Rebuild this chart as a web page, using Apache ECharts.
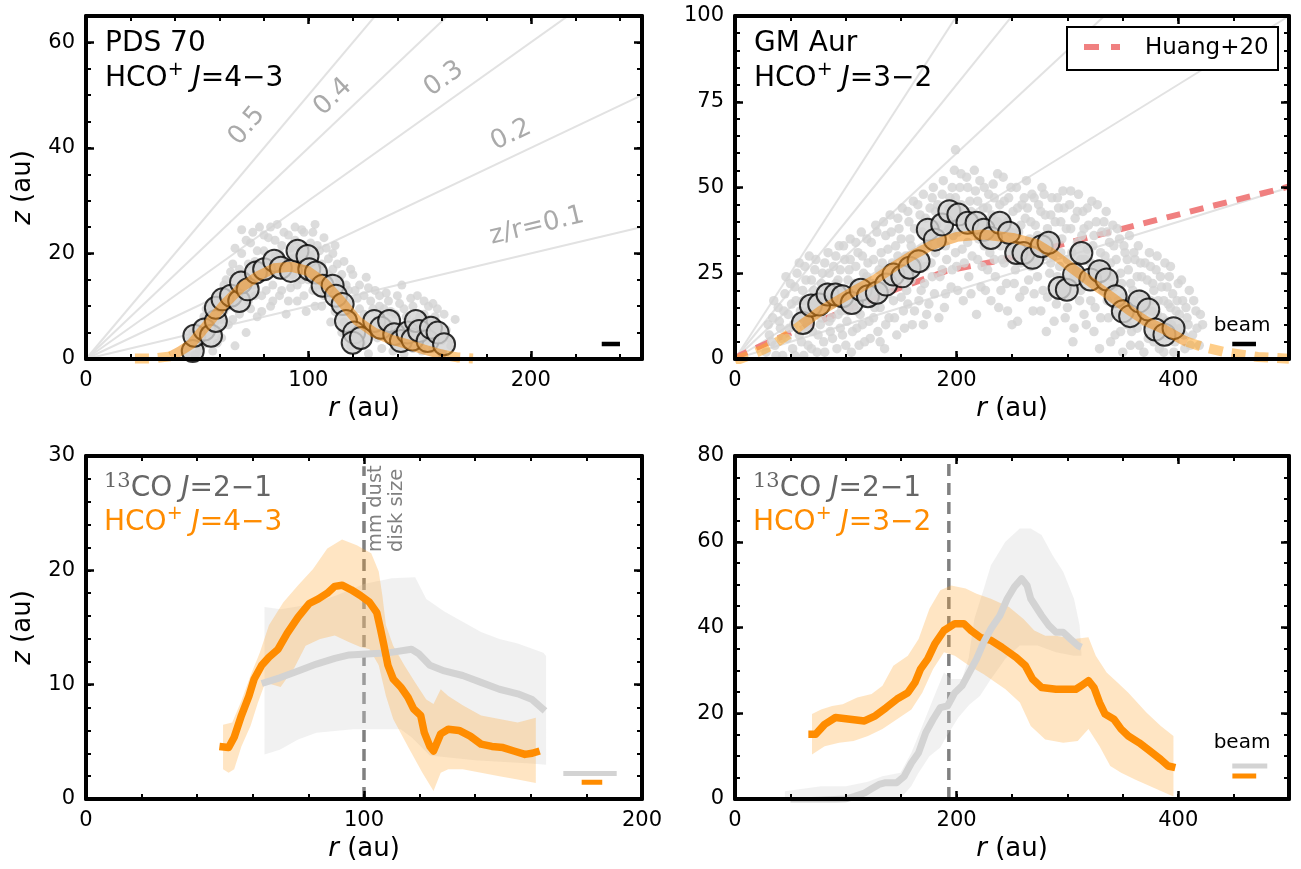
<!DOCTYPE html>
<html><head><meta charset="utf-8">
<script src="https://cdn.jsdelivr.net/npm/echarts@6/dist/echarts.min.js"></script>
<style>html,body{margin:0;padding:0;background:#fff}#c{width:1301px;height:869px}</style>
</head><body><div id="c"></div>
<script>
const FONT = 'DejaVu Sans';

// ===== Top-left: PDS 70, HCO+ J=4-3 =====
const zrRatios = [0.1, 0.2, 0.3, 0.4, 0.5];
const tlDots = [[45,1],[47,3.5],[49,0.8],[50,6],[52,2.5],[53,8],[55,4.5],[56,10],[57,1.5],[58,7],[60,12.5],[61,4],[62,9],[63,15],[64,6.5],[65,11],[66,18],[67,2.5],[68,13.5],[69,8.5],[70,24.5],[70,20],[71,16],[72,5],[73,11],[74,22],[75,14],[76,18.5],[77,8],[78,25],[79,12],[80,20.5],[81,16],[82,23],[83,10],[84,14],[85,19.5],[86,25.5],[87,12],[88,21.5],[89,16.5],[90,8.5],[91,23.5],[92,13.5],[93,19],[94,25],[95,11],[96,21],[97,15],[98,24],[99,9],[100,18.5],[101,22],[102,13],[103,25.5],[104,16],[105,20.5],[106,10],[107,23],[108,14.5],[109,19],[110,7],[111,17],[112,21.5],[113,11.5],[114,15],[115,5],[116,18.5],[117,9],[118,13],[119,2.5],[120,16],[121,6],[122,11.5],[123,14],[124,3],[125,8.5],[126,15.5],[127,1],[128,11],[129,5],[130,13],[131,7.5],[132,12],[133,2],[134,9.5],[135,4.5],[136,11],[137,6.5],[138,1.5],[139,8.5],[140,3.5],[141,10.5],[142,6],[143,1],[144,8],[145,4],[146,11.5],[147,2],[148,7],[149,12],[150,5],[151,1.5],[152,8.5],[153,3.5],[154,10],[155,6],[156,2],[157,8],[158,9.5],[159,4],[160,1],[162,5.5],[164,2.5],[166,7.5],[142,14],
  [46,2.5],[48,5],[51,1.5],[54,3],[54,9.5],[57,5.5],[59,11],[59,3],[61,7.5],[62,14],[64,10],[65,16.5],[66,7.5],[67,21],[68,11.5],[69,17],[71,13],[72,22.5],[73,18],[74,9.5],[75,24],[76,12],[77,20.5],[78,15.5],[79,9],[80,23.5],[81,13],[82,18],[83,25],[84,11],[85,22.5],[86,16],[87,20],[88,13],[89,24],[90,18],[91,11],[92,21],[93,16],[94,22.5],[95,14],[96,18],[97,24.5],[98,12],[99,21],[100,15],[101,19.5],[102,24],[103,10],[104,21.5],[105,14],[106,18],[107,12],[108,21],[109,16],[110,13],[111,20],[112,9],[113,18],[114,12],[115,16],[116,7],[117,14],[118,10.5],[119,17],[120,8.5],[121,13],[122,4.5],[123,9.5],[125,12],[126,6],[127,13.5],[129,9.5],[131,4],[132,10],[134,6.5],[135,12.5],[137,9],[139,5],[140,12],[141,2],[143,9.5],[145,6.5],[147,10],[150,8],[152,11],[154,7.5],[156,10.5],[158,6],[160,3.5],[161,8.5],[163,4]];
const tlCircles = [[48,1.5],[48.7,4.4],[53.2,5.6],[56.2,4.4],[58.4,7.2],[58.4,9.7],[61.4,11.3],[65.2,12.0],[68.9,11.0],[69.7,14.5],[72.7,13.2],[76.4,16.4],[80.1,17.0],[84.6,18.6],[87.6,17.3],[92.1,16.7],[95.1,20.5],[99.6,19.5],[100.4,17.0],[103.4,16.4],[106.4,13.9],[110.9,13.9],[112.4,12.0],[115.4,10.4],[116.9,7.2],[120.6,5.0],[119.9,3.1],[123.6,4.0],[129.6,7.2],[132.6,5.9],[136.3,7.2],[138.6,4.7],[141.6,3.4],[144.6,5.0],[146.8,3.7],[148.3,7.2],[149.8,5.3],[153.6,3.4],[155.1,5.9],[158.1,5.0],[161,2.8]];
const tlFitSolid = [[38,0.5],[42,1.4],[47.2,2.8],[54.7,6.6],[62.2,10.4],[69.7,13.5],[77.2,15.7],[84.6,17.2],[92.1,17.5],[99.6,16.7],[107.1,14.5],[114.6,11.0],[122.1,7.2],[129.6,5.0],[137.1,3.7],[144.6,2.8],[152,1.8],[159.6,0.9],[162,0.7]];
const tlFitDashL = [[22,0.1],[30,0.1],[38,0.5]];
const tlFitDashR = [[162,0.7],[167,0.3],[174,0.1]];
const tlBeam = [[231.9,2.86],[240.1,2.86]];

// ===== Top-right: GM Aur, HCO+ J=3-2 =====
const trDots = [[28,2],[31,7],[34,12],[36,4],[39,15],[41,9],[43,1],[45,19],[47,6],[48,13],[50,22],[52,3],[53,10],[55,17],[56,25],[58,7],[59,14],[61,20],[62,1],[63,27],[65,11],[66,4],[68,17],[69,23],[70,8],[72,13],[73,29],[74,2],[76,19],[77,10],[79,25],[80,5],[82,15],[83,21],[84,31],[86,8],[87,12],[89,27],[90,18],[92,3],[93,23],[94,33],[96,14],[97,7],[99,29],[100,20],[101,11],[103,26],[104,35],[105,2],[107,16],[108,22],[110,9],[111,31],[113,13],[114,37],[116,25],[117,5],[118,19],[120,28],[121,11],[123,34],[124,22],[126,15],[127,39],[129,8],[130,26],[132,31],[133,18],[135,3],[136,36],[137,23],[139,12],[140,42],[142,28],[143,17],[145,33],[146,7],[148,38],[149,24],[151,44],[152,14],[154,30],[155,20],[157,40],[158,35],[160,10],[161,46],[163,26],[164,31],[166,17],[167,42],[169,37],[170,48],[171,22],[173,13],[174,33],[176,44],[177,28],[179,50],[180,19],[182,39],[183,45],[185,24],[186,34],[188,52],[189,15],[191,29],[192,41],[194,47],[195,21],[197,36],[198,55],[199,61],[200,27],[202,43],[203,50],[205,32],[206,17],[208,38],[209,53],[211,24],[212,46],[214,30],[215,40],[217,49],[218,13],[220,35],[221,52],[223,27],[224,44],[226,20],[227,38],[229,48],[230,31],[232,42],[233,51],[235,24],[236,36],[238,15],[239,45],[241,29],[242,53],[244,39],[245,22],[247,47],[248,33],[250,10],[251,43],[253,26],[254,50],[256,37],[257,18],[259,45],[260,31],[262,41],[263,52],[265,23],[266,35],[268,48],[269,14],[271,39],[272,28],[274,45],[275,33],[277,50],[278,20],[280,42],[281,8],[283,36],[284,25],[286,47],[287,30],[289,40],[290,16],[292,44],[293,27],[295,35],[296,49],[298,12],[299,38],[301,22],[302,45],[304,31],[305,5],[307,41],[308,26],[310,48],[311,17],[313,36],[314,43],[316,29],[317,10],[319,39],[320,23],[322,46],[323,33],[325,15],[326,40],[328,27],[329,3],[331,37],[332,20],[334,30],[335,43],[337,12],[338,34],[340,24],[341,39],[343,7],[344,29],[346,17],[347,35],[349,22],[350,2],[352,31],[353,13],[355,26],[356,36],[358,8],[359,20],[361,29],[362,15],[364,33],[365,4],[367,24],[368,11],[370,28],[371,18],[373,6],[374,31],[376,14],[377,22],[379,9],[380,26],[382,17],[383,3],[385,21],[386,12],[388,28],[389,7],[391,16],[392,24],[394,10],[395,19],[397,5],[398,14],[400,22],[402,9],[404,17],[406,3],[408,12],[410,20],[413,7],[416,14],[419,4],[422,10],
  [30,10],[33,5],[35,17],[37,1],[40,11],[42,6],[44,14],[46,24],[49,9],[51,16],[54,1],[54,21],[57,12],[58,28],[60,5],[62,17],[64,23],[64,9],[67,14],[67,30],[69,3],[71,20],[72,26],[75,7],[75,16],[78,22],[78,12],[81,28],[81,2],[83,18],[85,11],[85,25],[88,6],[88,16],[91,22],[91,30],[93,13],[95,9],[95,26],[98,17],[98,33],[100,4],[102,14],[102,23],[104,29],[106,8],[106,19],[109,27],[109,34],[110,14],[112,4],[112,21],[115,10],[115,30],[117,17],[119,35],[119,24],[122,6],[122,19],[125,29],[125,12],[128,21],[128,37],[131,15],[131,5],[133,28],[134,40],[136,10],[138,19],[138,32],[141,24],[141,37],[144,12],[144,22],[147,30],[147,41],[150,18],[150,35],[153,9],[153,26],[156,43],[156,16],[159,23],[159,33],[162,38],[162,14],[165,28],[165,45],[168,20],[168,32],[170,10],[172,41],[172,27],[175,16],[175,36],[178,47],[178,24],[181,31],[181,43],[184,12],[184,36],[187,26],[187,48],[190,19],[190,33],[193,44],[193,38],[196,26],[196,50],[199,31],[199,47],[201,20],[201,37],[204,45],[204,54],[207,28],[207,41],[210,34],[210,50],[213,19],[213,43],[216,37],[216,55],[219,29],[219,46],[222,40],[222,21],[225,33],[225,50],[228,26],[228,44],[231,17],[231,37],[234,47],[234,29],[237,40],[237,54],[240,33],[240,20],[243,46],[243,28],[246,40],[246,14],[249,37],[249,50],[252,22],[252,31],[255,44],[255,11],[258,28],[258,39],[261,47],[261,20],[264,32],[264,44],[267,27],[267,40],[270,19],[270,47],[273,36],[273,24],[276,43],[276,14],[279,30],[279,48],[282,38],[282,18],[285,42],[285,28],[288,35],[288,11],[291,24],[291,47],[294,31],[294,40],[297,19],[297,44],[300,29],[300,15],[303,38],[303,49],[306,24],[306,9],[309,34],[309,43],[312,20],[312,29],[315,38],[315,13],[318,32],[318,44],[321,17],[321,28],[324,36],[324,8],[327,22],[327,45],[330,31],[330,12],[333,40],[333,26],[336,17],[336,37],[339,5],[339,28],[342,21],[342,33],[345,13],[345,38],[348,25],[348,8],[351,18],[351,33],[354,10],[354,29],[357,22],[357,4],[360,17],[360,31],[363,9],[363,24],[366,19],[366,28],[369,14],[369,2],[372,23],[372,10],[375,17],[375,27],[378,5],[378,20],[381,13],[381,30],[384,24],[384,8],[387,17],[387,2],[390,11],[390,21],[393,15],[393,27],[396,9],[396,2],[399,17],[401,13],[403,23],[405,7],[407,15],[409,10],[411,4],[414,17],[417,9],[420,13]];
const trCircles = [[61.3,10.5],[68.5,15.6],[76,15.9],[83.5,18.8],[90.7,18.8],[97,18.3],[105.4,16.3],[113.5,20.2],[120,18.3],[128,19.3],[136.4,21.7],[143,24.6],[151,24.1],[157.6,26.6],[165.7,28.5],[174,37.7],[180.4,34.8],[187,39.2],[193.5,43.1],[201.6,42.1],[209.8,39.7],[218,39.7],[224.5,37.7],[231,35.3],[239,39.7],[247.3,36.8],[253.8,30.9],[260.4,30.9],[268.5,29.5],[276.7,32.9],[283,33.9],[293,20.7],[299.5,20.2],[306,24.6],[312.6,30.9],[320.7,23.2],[329,25.6],[335.4,23.2],[343.5,18.3],[350,13.9],[356.6,12.5],[364.8,16.8],[373,14.4],[379.4,8.6],[387.6,7.1],[395.8,9.0]];
const trFitSolid = [[60,10],[77,14],[94,17.3],[110,20.3],[126.6,23.2],[143,26.8],[159,30],[179,33.4],[200,35.6],[224,36.3],[250.6,35.3],[273,33.4],[290,30],[306,26],[322,22.2],[339,18.3],[355,14.4],[371,11],[387.6,8.6],[404,5.6],[408,5]];
const trFitDashL = [[0,-0.5],[13.5,1.1],[25,2.7],[37.6,4.8],[50,7.6],[60,10]];
const trFitDashR = [[408,5],[420,3.7],[446,1.75],[472,0.6],[500,0.1]];
const huang20 = [[0,0],[5,1.2],[47,7.2],[95,13.5],[146,20.4],[191,25.7],[240,28.8],[314,35],[390,41.3],[492,49.6],[500,50.3]];
const trBeam = [[448.8,4.4],[470.2,4.4]];

// ===== Bottom-left: PDS 70 surfaces =====
const blHcoLine = [[48,4.6],[51.3,4.5],[53.3,5.4],[55.9,7.3],[58.6,9.0],[60.5,10.5],[63.2,11.7],[65.8,12.4],[69.1,13.1],[72.4,14.5],[76.3,15.9],[80.3,17.1],[83.6,17.5],[86.8,18.0],[89.5,18.6],[92.1,18.7],[95.4,18.3],[98.7,17.8],[102,17.2],[104.6,16.3],[105.9,14.9],[107.2,13.4],[108.6,11.7],[110.5,10.5],[113.2,9.8],[115.8,8.9],[117.8,7.9],[120.4,7.3],[121.7,5.8],[123.7,4.6],[125,4.2],[127.6,5.7],[130.3,6.1],[134.2,6.0],[138.2,5.5],[142.1,4.8],[146,4.6],[150,4.5],[153.9,4.2],[157.9,3.9],[160.5,4.0],[163.2,4.2]];
const blHcoHi = [[49.3,6.5],[52.6,6.7],[55.9,8.6],[59.2,10.8],[62.5,12.8],[65.8,15.2],[71,17.2],[76.3,18.7],[81.6,20.1],[86.8,21.9],[92.1,22.7],[97.4,22.2],[102.6,21.5],[105.3,19.9],[106.6,17.8],[107.9,15.2],[110.5,13.4],[114.5,11.7],[118.4,10.2],[122.4,8.7],[125,8.3],[127.6,9.6],[130.3,9.0],[135.5,8.2],[142.1,7.3],[148.7,7.0],[155.3,6.7],[161.8,7.1]];
const blHcoLo = [[49.3,2.6],[51.3,2.3],[53.3,2.6],[55.9,4.6],[59.2,6.4],[61.8,8.4],[64.5,10.2],[70,9.8],[75,11.5],[79,13.4],[84.2,14.0],[89.5,14.3],[94.7,13.7],[98.7,13.3],[102,13.1],[105.3,11.7],[107.9,9.0],[110.5,7.0],[115.8,4.6],[121,2.3],[125,0.7],[127.6,2.3],[130.3,2.6],[135.5,2.6],[142.1,2.3],[148.7,2.0],[155.3,1.7],[161.8,1.4]];
const blCoLine = [[63.2,10.1],[69.7,10.6],[76.3,11.2],[82.9,11.8],[89.5,12.3],[94.7,12.6],[102.6,12.7],[109.2,12.8],[117.1,13.1],[119.7,12.7],[123.7,11.7],[128.9,11.2],[135.5,10.8],[142.1,10.2],[148.7,9.6],[155.3,9.2],[160.5,8.7],[165.1,7.7]];
const blCoHi = [[64.2,16.8],[70,16.6],[80,17],[90,17.8],[100,18.8],[110,19.3],[118.4,19.4],[122.4,17.5],[128.9,16.4],[135.5,15.5],[142.1,14.6],[148.7,14.0],[155.3,13.6],[164.5,12.8],[165.5,12.5]];
const blCoLo = [[64.2,3.9],[69.7,4.3],[76.3,5.2],[82.9,5.8],[89.5,5.95],[96,6.1],[102.6,6.1],[109.2,6.1],[113.2,6.1],[117.1,5.4],[123.7,3.8],[140,3.4],[160,3.1],[165.5,3.0]];
const blDust = [[100,0],[100,29.1]];
const blBeamCo = [[171.7,2.24],[190.9,2.24]];
const blBeamHco = [[178.3,1.46],[185.7,1.46]];

// ===== Bottom-right: GM Aur surfaces =====
const brHcoLine = [[66.2,15.1],[72.8,15.1],[80.9,17.4],[90.7,19.0],[103.8,18.6],[116.8,18.2],[126.6,19.4],[136.4,21.3],[146.2,23.3],[156,24.8],[162.5,27.2],[167.4,30.3],[174,32.7],[180.4,36.2],[188.6,39.3],[198.4,40.9],[206.5,40.9],[213,39.3],[221.2,37.7],[231,37],[240.8,35.4],[253.8,33],[262,31.1],[268.5,28],[276.7,26],[289.7,25.6],[307.6,25.6],[312.6,26.4],[319,27.6],[324,26],[329,22.5],[334,19.8],[342,18.6],[348.5,16.3],[355,14.7],[364.8,13.1],[374.5,11.2],[384.3,9.2],[390.9,7.7],[397.4,7.3]];
const brHcoHi = [[69.5,19.8],[77.7,20.9],[87.6,21.7],[97.2,22.1],[110.3,23.7],[123.3,24.5],[133.1,26.4],[142.9,31.1],[156,33.4],[165.7,37.3],[175.5,44.4],[185.3,48.7],[195.1,49.8],[208.2,49.1],[218,47.9],[231,46.7],[247.3,44.8],[260.4,42],[270.1,39.3],[280,38.1],[289.7,38.1],[306,37.3],[319,37.7],[325.6,33.4],[335.4,29.5],[345.2,27.2],[355,24.8],[371.3,20.2],[384.3,17],[395.7,14.7]];
const brHcoLo = [[69.5,10.4],[80.9,12.3],[93.9,13.1],[107,13.5],[120,14.7],[133.1,16.3],[146.2,18.6],[159.2,20.9],[169,24.8],[178.8,30.3],[188.6,34.2],[198.4,33.4],[211.4,31.1],[224.5,29.1],[244.1,25.6],[257.1,22.5],[266.9,17],[280,13.9],[296.2,13.1],[309.3,13.5],[319,16.3],[329,12.3],[338.7,7.7],[348.5,6.1],[361.5,4.5],[377.8,2.6],[395.7,0.6]];
const brCoLine = [[50,-0.5],[75,-0.3],[100,0],[108,0.6],[117,1.4],[124,2.5],[130,3.4],[136,3.8],[146,3.8],[152.7,5.3],[159.2,8.4],[165.7,10.8],[172.2,15.5],[178.8,18.6],[185.3,21.3],[191.8,21.7],[198.4,24.8],[204.9,26.4],[211.4,29.5],[218,32.7],[224.5,36.6],[231,39.7],[239.1,42.8],[245.7,46.7],[252.2,49.5],[258.7,51.4],[263.6,49.8],[266.9,46.7],[276.7,42.8],[283.2,40.5],[289.7,38.9],[296.2,38.9],[302.8,37.3],[309.3,35.8],[312.6,35.4]];
const brCoHi = [[45,1.8],[77.7,3],[100,3],[120,4],[133,5.3],[149.4,6.1],[159.2,10.8],[169,17],[178.8,23.3],[188.6,29.5],[195,28],[205,28],[211,33],[216,42],[224.5,49],[231,54.5],[244,60],[257,63.1],[266.9,63.1],[276.7,61.6],[286.5,56.9],[296.2,53],[306,46.7],[311,40.5],[312.6,34.2]];
const brCoLo = [[45,0],[149,0],[159,3],[165.7,6.1],[175.5,10],[185.3,12],[191.8,15],[201.6,19],[211.4,22],[221,24],[231,28],[244,32.7],[257,35.8],[273,35.8],[289.7,34.2],[306,33.4],[312.6,33.4]];
const brDust = [[193,0],[193,80]];
const brBeamCo = [[448.8,7.67],[480.4,7.67]];
const brBeamHco = [[448.9,5.38],[470.4,5.38]];

// ===== layout / axes =====
const panels = [
  {grid:{left:86, top:16, width:556, height:343}, x:{min:0,max:250,major:100,minor:20}, y:{min:0,max:65,major:20,minor:5}, yName:true},
  {grid:{left:735, top:16, width:554, height:343}, x:{min:0,max:500,major:200,minor:50}, y:{min:0,max:100,major:25,minor:5}, yName:false},
  {grid:{left:86, top:456, width:556, height:343}, x:{min:0,max:200,major:100,minor:20}, y:{min:0,max:30,major:10,minor:2}, yName:true},
  {grid:{left:735, top:456, width:554, height:343}, x:{min:0,max:500,major:200,minor:50}, y:{min:0,max:80,major:20,minor:5}, yName:false}
];
const grid = [], xAxis = [], yAxis = [];
const italRich = {i:{fontSize:26, fontFamily:FONT, fontStyle:'italic', color:'#000'}};
panels.forEach((p, gi) => {
  grid.push(Object.assign({show:false, containLabel:false}, p.grid));
  const mk = (pos, r, isMajor, labels, extra) => Object.assign({
    gridIndex: gi, type:'value', position: pos, min: r.min, max: r.max,
    interval: isMajor ? r.major : r.minor, z: 10, silent: true,
    axisLine: {show: isMajor, onZero: false, lineStyle: {color:'#000', width:4}},
    axisTick: {show:true, inside:true, length: isMajor ? 8 : 5, lineStyle:{color:'#000', width: isMajor ? 2.5 : 2}},
    axisLabel: labels ? {show:true, fontSize:21, fontFamily:FONT, color:'#000', margin:11,
      formatter: v => (v % r.major === 0 ? String(v) : '')} : {show:false},
    splitLine: {show:false}
  }, extra || {});
  const xName = {name:'{i|r} (au)', nameLocation:'middle', nameGap:37,
    nameTextStyle:{fontSize:26, fontFamily:FONT, color:'#000', rich: italRich}};
  const yName = p.yName ? {name:'{i|z} (au)', nameLocation:'middle', nameGap:50,
    nameTextStyle:{fontSize:26, fontFamily:FONT, color:'#000', rich: italRich}} : {};
  xAxis.push(mk('bottom', p.x, true, true, xName), mk('top', p.x, true, false), mk('bottom', p.x, false, false), mk('top', p.x, false, false));
  yAxis.push(mk('left', p.y, true, true, yName), mk('right', p.y, true, false), mk('left', p.y, false, false), mk('right', p.y, false, false));
});

// ===== series helpers =====
const S = [];
const ax = i => ({xAxisIndex: 4*i, yAxisIndex: 4*i});
function addLine(i, data, ls, z) {
  S.push(Object.assign({type:'line', data, symbol:'none', silent:true, clip:true, z: z,
    lineStyle: Object.assign({join:'round'}, ls)}, ax(i)));
}
function addScatter(i, data, size, style, z) {
  S.push(Object.assign({type:'scatter', data, symbolSize:size, itemStyle:style, silent:true, z: z}, ax(i)));
}
function addBand(i, hi, lo, color, z) {
  S.push(Object.assign({type:'custom', data:[hi[0]], clip:true, silent:true, z: z,
    renderItem: (params, api) => {
      const pts = hi.map(p => api.coord(p)).concat(lo.slice().reverse().map(p => api.coord(p)));
      return {type:'polygon', shape:{points: pts}, style:{fill: color}};
    }}, ax(i)));
}

const ZR = {color:'#e2e2e2', width:2};
const FIT = {color:'rgba(240,140,20,0.55)', width:10};
const FITD = {color:'rgba(255,165,40,0.55)', width:10, type:[14,9]};
const DOT = {color:'#d3d3d3'};
const CIRC = {color:'#d3d3d3', borderColor:'#000', borderWidth:2};

// top-left
const tlMaxR = panels[0].x.max, trMaxR = panels[1].x.max;
zrRatios.forEach(k => addLine(0, [[0,0],[tlMaxR, k*tlMaxR]], ZR, 1));
addScatter(0, tlDots, 9, DOT, 2);
addScatter(0, tlCircles, 22, CIRC, 3);
addLine(0, tlFitSolid, FIT, 4);
addLine(0, tlFitDashL, FITD, 4);
addLine(0, tlFitDashR, FITD, 4);
addLine(0, tlBeam, {color:'#000', width:4.5}, 5);

// top-right
zrRatios.forEach(k => addLine(1, [[0,0],[trMaxR, k*trMaxR]], ZR, 1));
addScatter(1, trDots, 9.5, DOT, 2);
addLine(1, huang20, {color:'#f08080', width:6, type:[14,10]}, 2);
addScatter(1, trCircles, 22, CIRC, 3);
addLine(1, trFitSolid, FIT, 4);
addLine(1, trFitDashL, FITD, 4);
addLine(1, trFitDashR, FITD, 4);
addLine(1, trBeam, {color:'#000', width:4.5}, 5);

// bottom-left
const BANDO = 'rgba(255,160,40,0.28)', BANDG = 'rgba(211,211,211,0.32)';
addLine(2, blDust, {color:'#808080', width:3.5, type:[12,7]}, 1);
addBand(2, blCoHi, blCoLo, BANDG, 2);
addBand(2, blHcoHi, blHcoLo, BANDO, 3);
addLine(2, blCoLine, {color:'#d3d3d3', width:7}, 4);
addLine(2, blHcoLine, {color:'#ff8c00', width:7.5}, 5);
addLine(2, blBeamCo, {color:'#d3d3d3', width:5}, 5);
addLine(2, blBeamHco, {color:'#ff8c00', width:5}, 5);

// bottom-right
addLine(3, brDust, {color:'#808080', width:3.5, type:[12,7]}, 1);
addBand(3, brCoHi, brCoLo, BANDG, 2);
addBand(3, brHcoHi, brHcoLo, BANDO, 3);
addLine(3, brHcoLine, {color:'#ff8c00', width:7.5}, 4);
addLine(3, brCoLine, {color:'#d3d3d3', width:7}, 5);
addLine(3, brBeamCo, {color:'#d3d3d3', width:5}, 5);
addLine(3, brBeamHco, {color:'#ff8c00', width:5}, 5);

// ===== text annotations =====
function rich(color) {
  return {
    n:{fontSize:28, fontFamily:FONT, fill:color, lineHeight:36},
    i:{fontSize:28, fontFamily:FONT, fontStyle:'italic', fill:color, lineHeight:36},
    s:{fontSize:19, fontFamily:FONT, fill:color, lineHeight:36, verticalAlign:'top'},
    f:{fontSize:21, fontFamily:'DejaVu Serif', fill:color, lineHeight:36, verticalAlign:'top'}
  };
}
function txt(x, y, text, color) {
  return {type:'text', x, y, z:50, silent:true,
    style:{text, rich: rich(color), fill: color, fontSize:28, fontFamily:FONT,
      align:'left', verticalAlign:'middle', textAlign:'left', textVerticalAlign:'middle'}};
}
function plain(x, y, text, size, color, rot, align) {
  return {type:'text', x, y, rotation: rot || 0, z:50, silent:true,
    style:{text, fill:color, fontSize:size, fontFamily:FONT,
      align: align || 'center', verticalAlign:'middle', textAlign: align || 'center', textVerticalAlign:'middle'}};
}
const deg = Math.PI / 180;
const graphic = [
  txt(105, 44, '{n|PDS 70}', '#000'),
  txt(105, 79, '{n|HCO}{s|+}{n| }{i|J}{n|=4−3}', '#000'),
  txt(754, 44, '{n|GM Aur}', '#000'),
  txt(754, 79, '{n|HCO}{s|+}{n| }{i|J}{n|=3−2}', '#000'),
  txt(104, 489, '{f|13}{n|CO }{i|J}{n|=2−1}', '#666666'),
  txt(104, 523, '{n|HCO}{s|+}{n| }{i|J}{n|=4−3}', '#ff8c00'),
  txt(753, 489, '{f|13}{n|CO }{i|J}{n|=2−1}', '#666666'),
  txt(753, 523, '{n|HCO}{s|+}{n| }{i|J}{n|=3−2}', '#ff8c00'),
  plain(247, 126, '0.5', 26, '#aaaaaa', 50*deg),
  plain(333, 97, '0.4', 26, '#aaaaaa', 43.6*deg),
  plain(444, 79, '0.3', 26, '#aaaaaa', 35.5*deg),
  plain(511, 135, '0.2', 26, '#aaaaaa', 25.4*deg),
  plain(537, 226, 'z/r=0.1', 26, '#aaaaaa', 13.4*deg),
  plain(376, 552, 'mm dust', 19.5, '#808080', 90*deg, 'left'),
  plain(397, 552, 'disk size', 19.5, '#808080', 90*deg, 'left'),
  plain(1242, 326, 'beam', 20, '#000'),
  plain(1242, 743, 'beam', 20, '#000'),
  {type:'rect', z:45, silent:true, shape:{x:1067, y:27, width:211, height:43},
    style:{fill:'#fff', stroke:'#000', lineWidth:2}},
  {type:'line', z:46, silent:true, shape:{x1:1084, y1:47, x2:1120, y2:47},
    style:{stroke:'#f08080', lineWidth:6, lineDash:[15,12]}},
  plain(1145, 48, 'Huang+20', 23, '#000', 0, 'left')
];

const chart = echarts.init(document.getElementById('c'), null, {renderer:'canvas'});
chart.setOption({
  animation:false,
  backgroundColor:'#fff',
  grid, xAxis, yAxis,
  series: S,
  graphic
});
</script></body></html>
